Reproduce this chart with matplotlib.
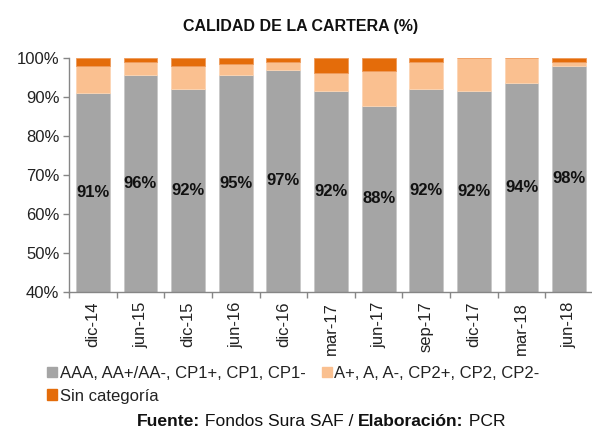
import matplotlib
matplotlib.use("Agg")
import matplotlib.pyplot as plt
import numpy as np
from matplotlib.patches import Patch

plt.rcParams['font.family'] = ['Liberation Sans', 'DejaVu Sans']

categories = ["dic-14", "jun-15", "dic-15", "jun-16", "dic-16", "mar-17",
              "jun-17", "sep-17", "dic-17", "mar-18", "jun-18"]
aaa = [91.1, 95.6, 92.1, 95.6, 97.0, 91.6, 87.8, 92.1, 91.6, 93.7, 98.0]
a_plus = [6.9, 3.4, 5.9, 2.9, 2.0, 4.5, 8.9, 6.9, 8.4, 6.3, 1.0]
sin_cat = [2.0, 1.0, 2.0, 1.5, 1.0, 3.9, 3.3, 1.0, 0.0, 0.0, 1.0]
labels = ["91%", "96%", "92%", "95%", "97%", "92%", "88%", "92%", "92%", "94%", "98%"]
series_names = ["AAA, AA+/AA-, CP1+, CP1, CP1-", "A+, A, A-, CP2+, CP2, CP2-", "Sin categoría"]
colors = ["#A5A5A5", "#FAC090", "#E46C0A"]
yticks = [40, 50, 60, 70, 80, 90, 100]

fig = plt.figure(figsize=(5.92, 4.30), dpi=100)
ax = fig.add_axes([69/592, 1-292/430, (593-69)/592, 234/430])

x = np.arange(len(categories))
w = 0.71
aaa_a = np.array(aaa); ap = np.array(a_plus); sc = np.array(sin_cat)
ax.bar(x, aaa_a, w, color=colors[0], edgecolor="#C8C8C8", linewidth=0.6)
ax.bar(x, ap, w, bottom=aaa_a, color=colors[1], edgecolor="#FCD5B4", linewidth=0.6)
ax.bar(x, sc, w, bottom=aaa_a+ap, color=colors[2], edgecolor="#EE9A5A", linewidth=0.6)

ymin = 40
for xi, v, lab in zip(x, aaa, labels):
    ax.text(xi, (ymin+v)/2, lab, ha="center", va="center", fontsize=12,
            fontweight="bold", color="#111111")

ax.set_ylim(40, 100)
ax.set_xlim(-0.5, len(categories)-0.5)
ax.set_yticks(yticks)
ax.set_yticklabels([f"{t}%" for t in yticks], fontsize=12, color="#222222")
ax.set_xticks(x)
ax.set_xticklabels(categories, rotation=90, fontsize=12, color="#222222")
ax.set_xticks(np.arange(len(categories)+1)-0.5, minor=True)
ax.tick_params(axis="x", which="major", length=0, pad=7)
ax.tick_params(axis="x", which="minor", length=4, color="#868686", width=1)
ax.tick_params(axis="y", length=4, color="#868686", width=1, pad=3)
for s in ["top", "right"]:
    ax.spines[s].set_visible(False)
for s in ["left", "bottom"]:
    ax.spines[s].set_color("#868686")
    ax.spines[s].set_linewidth(1)

fig.text(301/592, 1-27/430, "CALIDAD DE LA CARTERA (%)", ha="center", va="center",
         fontsize=11.5, fontweight="bold", color="#111111")

handles = [Patch(color=colors[0]), Patch(color=colors[2]), Patch(color=colors[1])]
names = [series_names[0], series_names[2], series_names[1]]
leg = fig.legend(handles, names, ncol=2, loc="upper left",
                 bbox_to_anchor=(47/592, 1-366/430), frameon=False, fontsize=12,
                 handlelength=0.6, handleheight=0.6, handletextpad=0.15,
                 columnspacing=1.0, labelspacing=0.45, borderpad=0, borderaxespad=0,
                 labelcolor="#222222")

# Source line with mixed bold/normal
fig.canvas.draw()
r = fig.canvas.get_renderer()
parts = [("Fuente:", "bold"), (" Fondos Sura SAF / ", "normal"), ("Elaboración:", "bold"), (" PCR", "normal")]
widths = []
for txt, wt in parts:
    t = fig.text(0, 0, txt, fontsize=12.6, fontweight=wt)
    bb = t.get_window_extent(renderer=r)
    widths.append(bb.width)
    t.remove()
xpos = 321 - sum(widths)/2
ypos = 1-422/430
for (txt, wt), wd in zip(parts, widths):
    fig.text(xpos/592, ypos, txt, ha="left", va="center", fontsize=12.6,
             fontweight=wt, color="#111111")
    xpos += wd

fig.savefig("out.png", dpi=100)
